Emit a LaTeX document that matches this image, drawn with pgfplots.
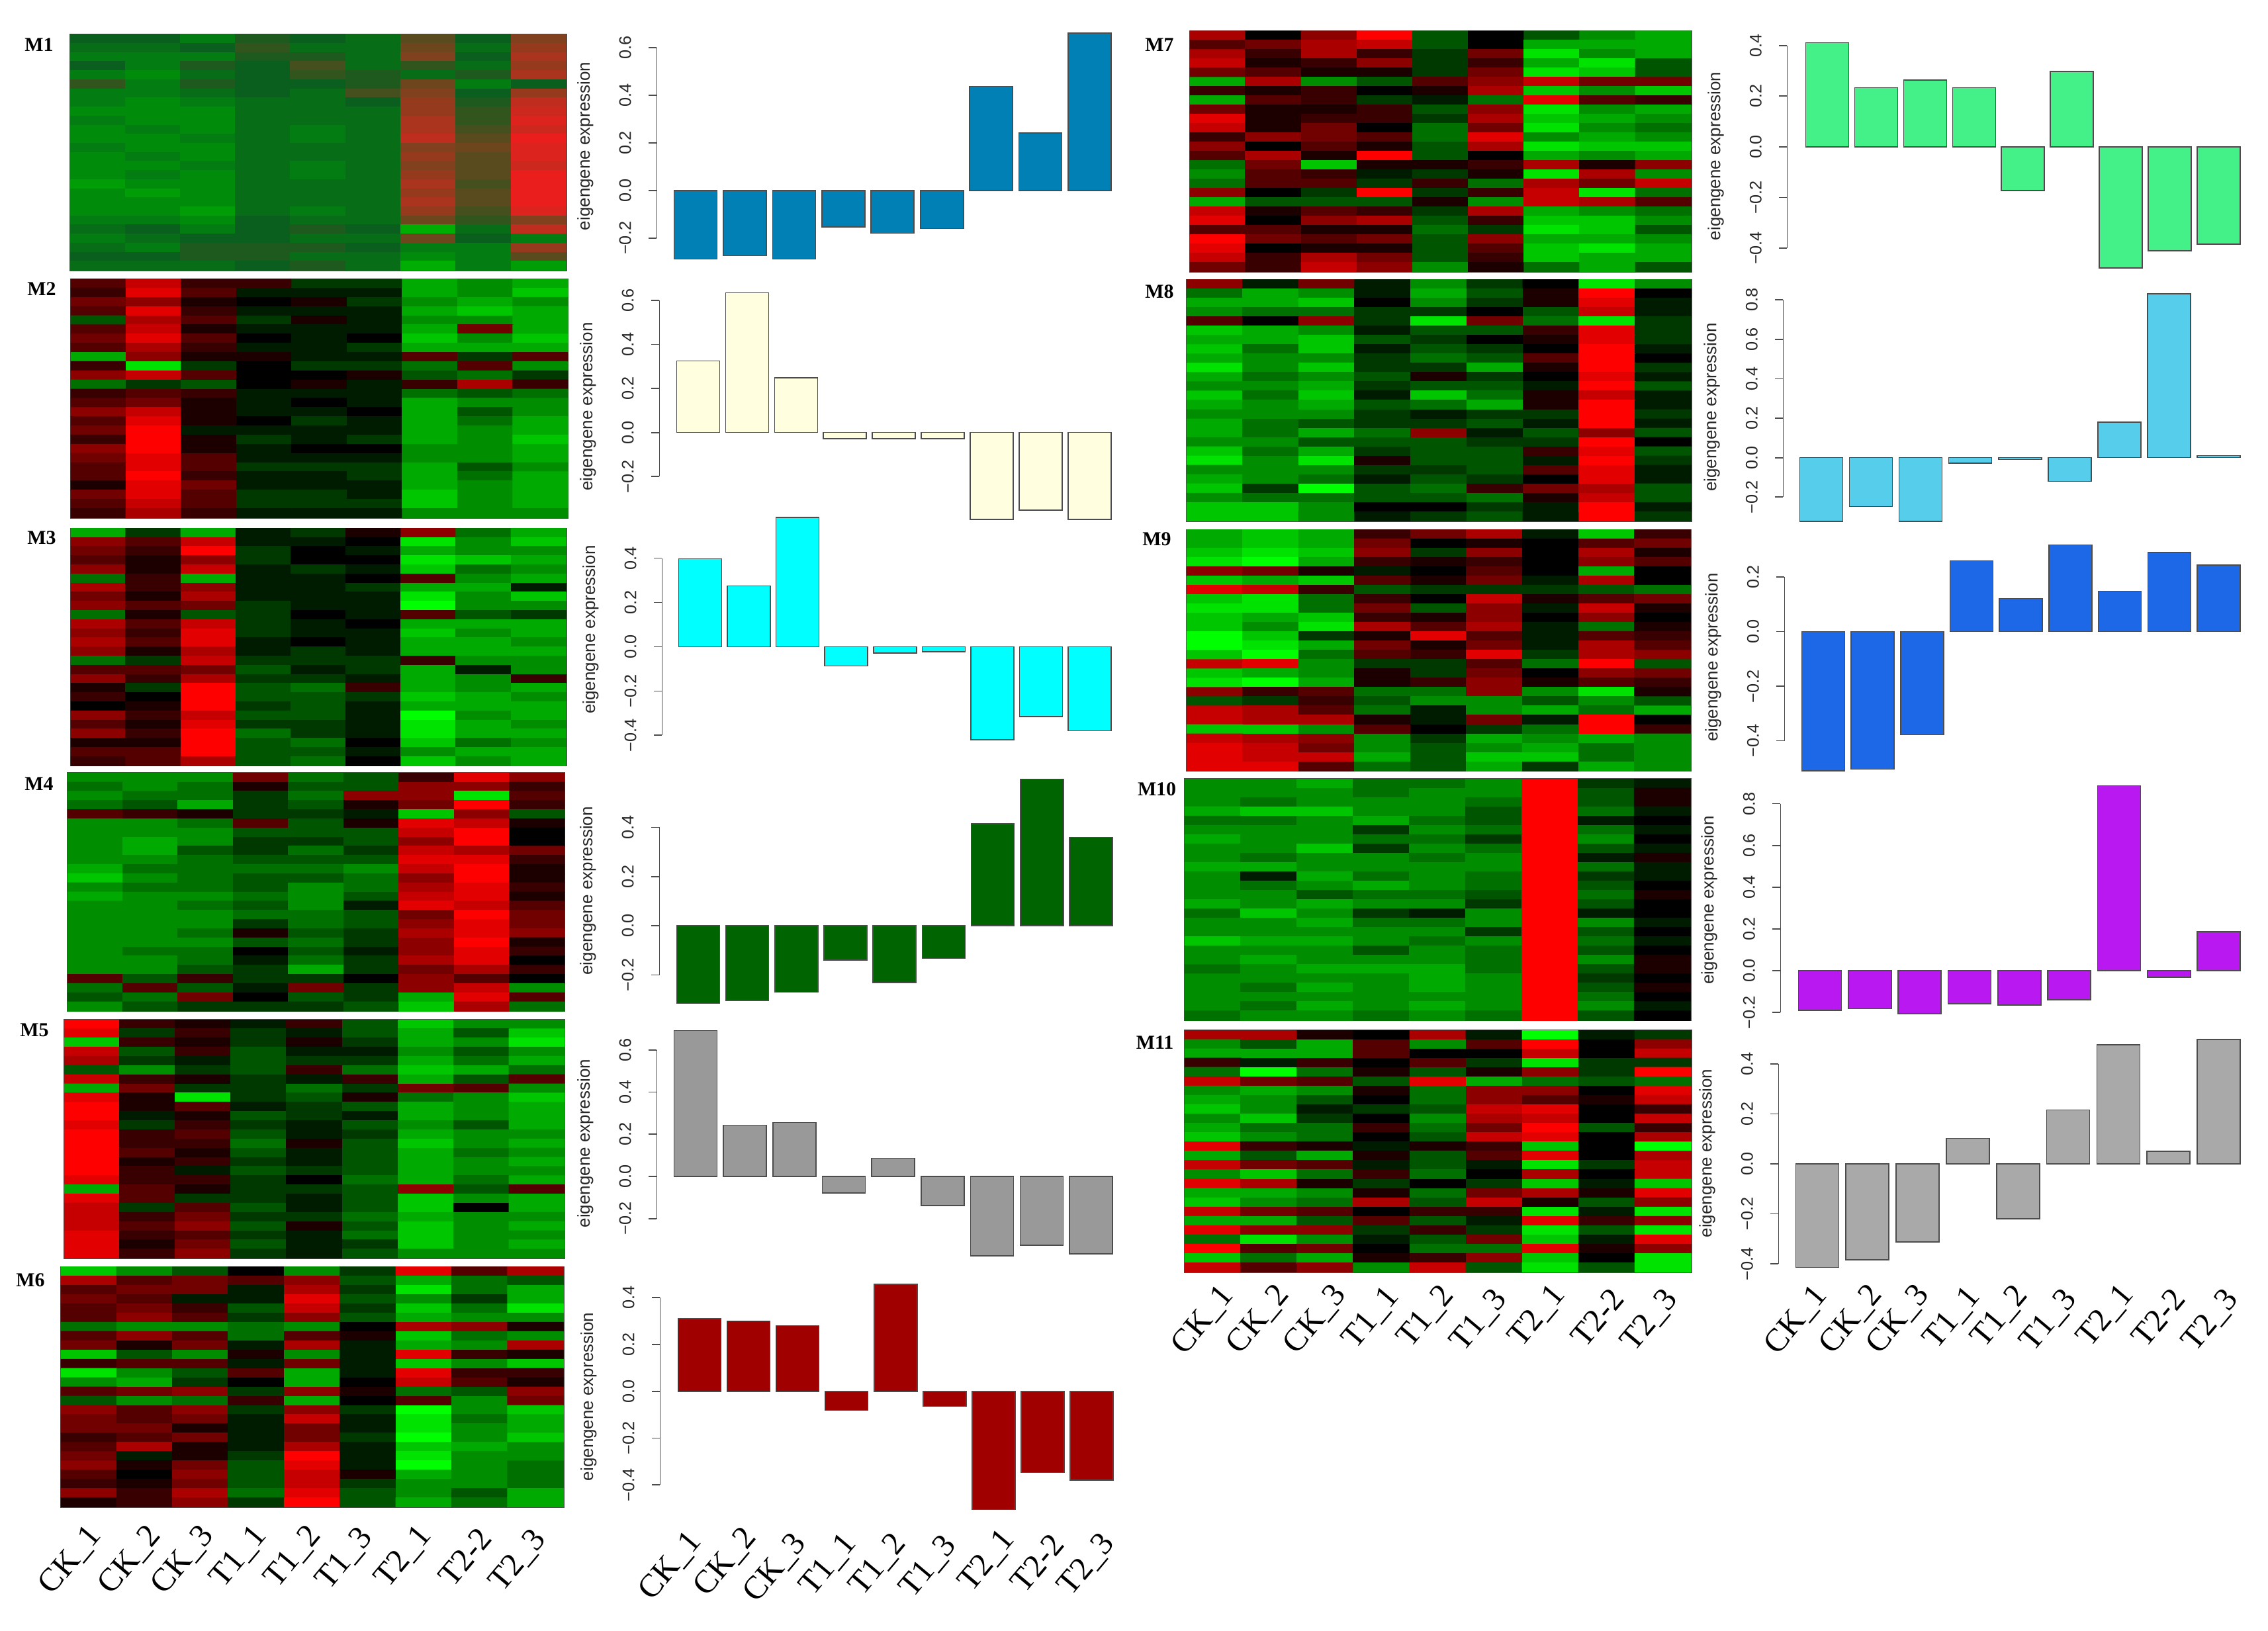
\documentclass[border=0pt]{standalone}
\usepackage{pgfplots}
\usepackage{pgfplotstable}
\usepackage{fontspec}
\pgfplotsset{compat=1.18}
\setmainfont{Liberation Sans}
\newfontfamily\timesf{Liberation Serif}

\definecolor{cM1}{RGB}{0,128,181}
\definecolor{cM2}{RGB}{255,255,224}
\definecolor{cM3}{RGB}{0,255,255}
\definecolor{cM4}{RGB}{0,100,0}
\definecolor{cM5}{RGB}{153,153,153}
\definecolor{cM6}{RGB}{160,0,0}
\definecolor{cM7}{RGB}{67,241,136}
\definecolor{cM8}{RGB}{85,205,235}
\definecolor{cM9}{RGB}{28,104,230}
\definecolor{cM10}{RGB}{186,24,240}
\definecolor{cM11}{RGB}{169,169,169}

\pgfplotsset{
  colormap={gbr}{rgb255=(0,255,0) rgb255=(0,0,0) rgb255=(255,0,0)},
  colormap={muted}{rgb255=(0,190,0) rgb255=(0,140,10) rgb255=(10,95,30) rgb255=(70,80,30) rgb255=(130,65,30) rgb255=(190,45,30) rgb255=(235,30,30)},
}

% heatmap values: -9 green, 0 black, 9 red
\pgfplotstableread[header=false]{
-3 -3 -5 -2 -3 -4 1 -3 3
-4 -4 -3 -1 -4 -4 2 -4 4
-5 -5 -5 -2 -2 -4 3 -3 5
-3 -5 -2 -3 0 -4 -1 -4 4
-5 -6 -4 -3 -1 -2 -4 -2 5
-1 -5 -2 -3 -3 -2 2 -5 -3
-5 -5 -4 -3 -4 0 3 -3 4
-5 -6 -5 -4 -4 -3 4 -2 6
-6 -6 -6 -4 -4 -4 4 -1 7
-5 -6 -6 -4 -4 -4 5 -1 8
-6 -5 -6 -4 -5 -4 5 0 7
-6 -6 -5 -4 -5 -4 6 1 9
-5 -6 -6 -4 -4 -4 3 2 8
-6 -5 -6 -4 -4 -4 4 1 8
-6 -6 -5 -4 -5 -4 3 1 7
-6 -5 -6 -4 -5 -4 4 1 9
-7 -6 -6 -4 -4 -4 5 0 9
-6 -7 -6 -4 -4 -4 4 1 9
-6 -6 -6 -4 -4 -4 5 1 9
-6 -6 -7 -4 -5 -4 4 0 8
-5 -5 -6 -3 -4 -4 2 -1 3
-4 -3 -5 -3 -2 -3 -8 -4 6
-5 -4 -3 -3 -4 -4 2 -3 -5
-4 -5 -2 -2 -2 -3 -5 -5 4
-3 -3 -2 -2 -4 -4 -6 -5 1
-4 -4 -4 -3 -2 -4 -8 -5 -7
}\tabMa
\pgfplotstableread[header=false]{
3 7 2 2 -2 -2 -6 -5 -6
2 8 3 -1 -1 -1 -6 -5 -7
4 5 1 0 1 -2 -5 -6 -5
3 8 2 -1 -1 -1 -6 -7 -6
-3 6 3 -2 1 -1 -5 -5 -6
3 7 1 -1 -1 -1 -6 4 -6
4 8 3 0 -1 0 -7 -5 -7
3 6 2 -1 -1 -2 -6 -6 -6
-6 5 1 1 -1 -1 3 -2 3
2 -8 -2 0 -2 -2 -4 3 -5
5 7 3 0 0 1 -3 -4 -2
-4 -2 -3 0 1 -1 2 6 2
2 3 2 -1 -1 -1 -4 -3 -4
3 4 1 -1 0 -1 -6 -5 -5
5 7 1 -1 -1 0 -6 -3 -5
3 8 1 0 -2 -1 -6 -4 -6
4 9 -1 -1 -1 -1 -6 -5 -6
2 9 1 -2 -1 -2 -6 -5 -7
5 9 1 -1 0 0 -5 -5 -6
4 8 3 -1 -1 -1 -5 -5 -6
3 8 3 -2 -2 -2 -6 -3 -5
3 9 2 -1 -1 -2 -6 -4 -6
1 8 4 -1 -1 -1 -6 -5 -6
4 8 3 -2 -2 -1 -7 -5 -6
3 7 3 -2 -2 -2 -7 -5 -6
2 6 2 -1 -1 -1 -5 -5 -5
}\tabMb
\pgfplotstableread[header=false]{
-6 -2 -6 -1 -2 1 5 -4 -6
5 3 7 -1 -1 0 -8 -5 -7
4 2 9 -2 0 -1 -6 -5 -5
3 1 5 -2 0 0 -8 -7 -6
5 1 7 -1 -2 -1 -7 -4 -5
-4 2 -6 -1 -1 0 3 -5 -6
6 2 5 -1 -1 -2 -6 -6 -1
4 1 6 -1 -1 -1 -8 -5 -7
5 3 4 -2 -1 -1 -9 -5 -5
-4 1 -3 -2 0 -1 3 -3 -2
6 3 7 -2 -1 0 -6 -6 -6
5 2 8 -2 -1 -1 -7 -5 -6
6 3 8 -1 0 -1 -6 -6 -5
5 1 6 -1 -2 -1 -6 -6 -6
-4 -2 7 -2 -2 -2 2 -5 -5
3 3 4 -3 -1 -2 -6 -1 -5
5 2 6 -2 -2 -1 -6 -5 2
1 -2 9 -3 -4 2 -6 -5 -6
2 0 9 -3 -3 -2 -7 -6 -5
0 1 9 -2 -3 -1 -6 -6 -6
5 2 7 -3 -3 -1 -9 -5 -6
3 1 8 -2 -2 -1 -8 -6 -5
5 2 9 -4 -2 -1 -8 -6 -6
1 1 9 -3 -4 0 -7 -4 -5
3 3 9 -3 -3 -1 -5 -6 -6
2 3 6 -3 -4 0 -7 -5 -6
}\tabMc
\pgfplotstableread[header=false]{
-5 -5 -5 4 -4 -3 2 8 5
-4 -5 -4 1 -3 -3 5 5 2
-5 -4 -4 -2 -4 5 5 -8 3
-4 -3 -6 -2 -3 1 4 9 2
3 2 1 -2 -2 -1 -7 5 -3
-5 -5 -4 3 -3 1 8 7 1
-5 -5 -5 -3 -3 -3 7 9 0
-5 -6 -5 -2 -2 -3 5 9 0
-5 -6 -3 -2 -4 -2 7 6 4
-5 -5 -4 -3 -3 -3 8 8 2
-6 -4 -4 -4 -4 -5 7 9 1
-7 -5 -4 -3 -3 -4 5 9 1
-5 -4 -4 -3 -5 -4 6 8 2
-6 -5 -5 -4 -5 -3 7 8 1
-5 -5 -4 -3 -5 -1 8 7 3
-5 -5 -5 -4 -4 -3 4 9 4
-5 -5 -5 -2 -4 -3 5 8 4
-5 -5 -4 1 -3 -2 6 8 5
-5 -5 -5 -3 -4 -2 5 9 1
-5 -4 -4 0 -3 -1 5 8 2
-5 -5 -4 -1 -4 -2 6 8 0
-5 -5 -3 -2 -6 -2 4 6 2
3 -3 2 -2 -2 0 5 3 0
-4 3 -3 -1 4 -2 5 7 -5
-3 -4 4 0 -3 -2 -6 8 3
-5 -3 -2 -2 -2 -3 -7 6 -4
}\tabMd
\pgfplotstableread[header=false]{
9 2 1 -1 2 -3 -7 -5 -5
8 -2 2 -2 -1 -3 -6 -3 -7
-7 2 1 -2 1 -2 -6 -5 -8
7 -3 2 -3 -1 -1 -5 -3 -5
6 -2 -1 -3 -2 -2 -6 -4 -6
-3 -5 -2 -3 2 -4 -7 -6 -4
7 2 1 -2 -1 2 -6 -3 3
-6 4 -2 -2 -4 -2 4 3 -5
8 1 -8 -2 -3 1 -4 -5 -7
9 1 3 -1 -2 -3 -6 -5 -6
9 -1 1 -3 -2 -1 -6 -5 -6
8 -2 2 -2 -1 -3 -5 -3 -6
9 2 3 -3 -1 -2 -6 -5 -5
9 2 2 -4 1 -3 -7 -5 -6
9 3 1 -3 -1 -3 -6 -4 -5
9 1 2 -2 -1 -3 -6 -5 -6
9 2 -1 -3 -2 -3 -6 -5 -5
8 2 2 -2 0 -4 -6 -4 -6
-6 3 1 -2 -2 -3 5 -3 3
8 3 -2 -2 -1 -3 -7 -5 -6
7 -2 3 -3 -1 -3 -7 0 -6
7 2 4 -2 -2 -4 -6 -5 -5
7 3 5 -3 1 -3 -7 -5 -6
8 2 3 -2 -1 -4 -7 -5 -5
8 1 4 -3 -1 -2 -7 -5 -6
8 2 5 -2 -1 -3 -5 -5 -5
}\tabMe
\pgfplotstableread[header=false]{
-7 -5 -3 0 -5 -2 8 3 6
6 3 4 3 5 -3 -6 -4 -3
3 4 4 -1 6 -2 -8 -4 -6
4 3 -1 -1 8 -3 -5 -2 -6
3 4 2 -3 7 -2 -7 -4 -8
3 5 3 -2 5 -3 -6 -5 -5
-4 -5 -5 -4 -5 0 6 5 1
3 5 3 -4 3 1 -7 -4 -5
4 1 4 -1 6 -1 -6 -5 6
-7 -3 -5 1 -5 -1 8 2 1
2 3 3 -1 4 -1 -7 -5 -7
-8 -5 -3 3 -6 -1 8 2 2
-5 -6 -2 0 -6 0 7 3 1
3 4 5 -2 5 1 -4 -3 5
-3 -5 -4 2 -6 0 3 -5 4
5 3 5 -2 5 -2 -9 -5 -7
4 3 4 -1 7 -1 -8 -4 -6
4 4 1 -1 4 -1 -8 -5 -6
2 3 4 -1 4 -2 -9 -5 -7
3 6 1 -1 6 -1 -7 -6 -5
4 -1 1 -2 9 -1 -8 -5 -5
5 1 4 -3 8 -1 -9 -5 -4
3 0 5 -3 7 1 -6 -5 -4
2 1 4 -3 7 -2 -5 -5 -4
5 2 6 -4 8 -3 -5 -3 -6
1 2 5 -2 9 -3 -6 -4 -6
}\tabMf
\pgfplotstableread[header=false]{
6 0 5 9 -3 0 -3 -5 -6
3 4 6 7 -3 0 -6 -6 -6
6 2 6 2 -2 4 -8 -5 -6
7 1 2 5 -2 2 -6 -8 -3
4 3 1 1 -2 4 -8 -7 -3
-6 6 -5 -3 3 5 7 4 4
2 1 2 0 1 6 -7 -5 -7
-6 3 2 -2 -1 -4 8 3 2
4 1 1 2 -3 5 -8 -5 -6
8 1 2 2 -2 6 -7 -6 -5
7 1 4 0 -4 4 -8 -5 -4
2 5 4 3 -4 8 -5 -6 -5
5 0 3 1 -3 6 -8 -7 -7
3 6 1 9 -3 0 -6 -5 -6
-4 4 -7 1 1 2 6 1 5
-5 3 2 -1 -2 1 -8 6 -5
-4 3 3 -2 2 -4 6 4 7
5 0 -2 9 -2 2 7 -8 -4
-6 -3 -3 -3 1 -5 7 6 3
7 1 3 2 -2 6 -6 -5 -4
8 0 5 6 -3 2 -7 -7 -5
3 3 1 1 -4 -2 -8 -7 -3
9 4 3 4 -3 5 -6 -6 -5
8 0 1 1 -3 3 -7 -8 -6
7 2 6 4 -3 2 -7 -6 -6
4 2 7 5 -5 1 -4 -6 -3
}\tabMg
\pgfplotstableread[header=false]{
5 -1 4 -1 -5 -2 0 -8 -5
-4 -6 -5 -1 -6 -3 1 9 0
-6 -6 -7 0 -5 -2 1 8 -1
-5 -4 -4 -2 -2 0 -3 7 -1
3 0 5 -2 -8 4 -4 -8 -2
-7 -6 -5 -1 -3 -3 2 8 -2
-6 -6 -7 -3 -2 0 1 8 -2
-7 -4 -7 -1 -3 -2 0 9 -1
-6 -5 -5 -2 -4 -3 3 9 0
-8 -5 -7 -2 -2 -6 1 9 -2
-6 -4 -5 -3 1 -2 0 8 -1
-5 -5 -6 -2 -3 -3 -1 9 -3
-7 -4 -7 -1 -7 -4 1 7 -1
-6 -5 -6 -3 -4 -6 1 9 -1
-5 -5 -5 -2 -1 -2 -2 9 -2
-6 -4 -3 -2 -2 -3 -1 9 -1
-6 -4 -6 -4 5 -1 -3 5 -3
-5 -5 -3 -3 -3 -2 -2 9 0
-7 -4 -6 -2 -3 -3 2 8 -3
-8 -5 -8 1 -3 -3 -1 9 -2
-5 -5 -5 -2 -2 -3 3 8 -1
-6 -5 -4 -1 -3 -2 0 8 -1
-7 -2 -9 -3 -4 2 4 6 -3
-5 -4 -4 -3 -3 -4 1 7 -3
-7 -7 -5 0 0 -2 -1 9 -1
-7 -7 -5 -1 -2 -3 -1 9 -2
}\tabMh
\pgfplotstableread[header=false]{
-6 -7 -6 2 4 6 -1 -7 2
-6 -7 -6 4 0 1 0 3 4
-7 -8 -7 5 -2 5 0 6 1
-8 -9 -6 2 1 2 0 5 3
5 4 1 -1 0 3 0 -6 0
-7 -6 -7 3 1 4 -1 6 0
8 7 2 -3 -2 -2 -2 -3 -4
-7 -8 -4 2 0 7 1 3 4
-8 -8 -4 4 -3 5 -1 7 1
-7 -6 -7 2 1 5 0 5 0
-7 -5 -8 6 3 6 -1 -4 1
-9 -7 -2 1 8 3 -1 3 2
-9 -8 -6 4 1 4 -1 6 3
-7 -9 -4 3 2 8 -2 6 5
7 8 -5 -2 -2 3 -4 9 -3
-7 -6 -5 1 -2 4 0 5 4
-8 -9 -6 1 2 5 1 3 2
5 2 3 -4 -4 5 -5 -8 1
-3 -2 2 -3 -5 -5 -3 -5 -3
7 6 3 -4 -1 -5 -6 -4 -6
7 6 6 1 -1 4 -1 9 0
-7 -7 -5 3 0 -2 -4 9 2
7 6 5 -5 -2 -6 -5 -6 -5
8 7 4 -5 -3 -5 -6 -4 -5
8 7 7 -6 -3 -7 -7 -4 -5
8 8 3 -4 -3 -6 -2 -6 -5
}\tabMi
\pgfplotstableread[header=false]{
-5 -5 -6 -4 -4 -5 9 -2 -1
-5 -5 -5 -4 -5 -5 9 -3 1
-5 -4 -5 -5 -5 -4 9 -3 1
-6 -7 -7 -5 -5 -3 9 -4 -1
-4 -4 -5 -6 -4 -3 9 -1 0
-5 -5 -5 -2 -5 -4 9 -4 -1
-6 -5 -5 -4 -4 -2 9 -5 0
-5 -5 -7 -2 -5 -4 9 -3 -1
-5 -4 -5 -5 -4 -5 9 -1 1
-6 -6 -5 -5 -5 -5 9 -4 -1
-5 -1 -6 -4 -5 -4 9 -2 -1
-5 -4 -5 -6 -5 -4 9 -3 0
-5 -5 -3 -4 -4 -3 9 -4 1
-6 -5 -6 -5 -5 -2 9 -3 0
-4 -7 -5 -2 -1 -5 9 -1 0
-5 -5 -6 -4 -4 -5 9 -5 -1
-5 -5 -5 -5 -5 -2 9 -3 0
-7 -6 -6 -5 -4 -5 9 -4 -1
-5 -5 -5 -3 -5 -4 9 -3 0
-5 -6 -5 -5 -5 -4 9 -5 1
-4 -5 -6 -6 -6 -4 9 -3 1
-5 -5 -5 -5 -6 -5 9 -2 0
-5 -4 -6 -5 -6 -5 9 -3 1
-5 -5 -5 -5 -5 -5 9 -4 0
-5 -4 -6 -5 -6 -5 9 -5 -1
-4 -5 -5 -4 -5 -4 9 -3 0
}\tabMj
\pgfplotstableread[header=false]{
6 6 1 0 6 -1 -9 -1 -2
-5 -3 -6 3 -5 3 9 0 5
-6 -6 -6 3 0 0 7 0 7
2 -1 2 0 3 -2 -8 -2 -2
-4 -9 -4 1 -3 1 5 -2 9
7 4 3 -3 8 -6 -4 -3 -4
-5 -6 -5 1 -4 5 5 0 8
-6 -5 -3 0 -4 5 3 1 7
-7 -5 -1 -2 -3 7 8 0 2
-5 -7 -2 0 -5 6 7 0 7
-6 -4 -4 2 -4 4 9 -3 2
-7 -5 -4 0 -3 7 8 0 6
8 2 1 -1 1 2 -7 0 -9
-6 -3 -6 1 -3 3 8 0 6
7 4 3 -1 -3 -1 -8 -2 7
-5 -7 -4 2 -4 0 6 0 7
8 6 1 -2 0 -2 -7 -1 -7
-6 -6 -5 1 -4 4 6 1 8
-7 -5 -4 6 -3 7 1 -3 5
7 4 3 0 2 2 -8 -1 -8
-6 -6 -3 3 -3 -1 8 2 5
8 5 5 -2 2 -2 -8 -3 -8
-4 -8 -5 -1 -3 4 -7 -1 8
9 3 4 0 -4 -4 8 1 5
-7 -4 -6 1 2 5 -7 0 -8
7 3 5 -5 7 -3 -8 -3 -8
}\tabMk

\newcommand{\heatmap}[6]{%
  \pgfplotstablegetrowsof{#5}%
  \pgfmathtruncatemacro{\nrows}{\pgfplotsretval}%
  \pgfmathtruncatemacro{\lastrow}{\nrows-1}%
  \gdef\cellbuf{}%
  \foreach \r in {0,...,\lastrow}{%
    \foreach \c in {0,...,8}{%
      \pgfplotstablegetelem{\r}{[index]\c}\of{#5}%
      \xdef\cellbuf{\cellbuf (\c,\r) [\pgfplotsretval] }%
    }%
  }%
  \begin{axis}[
    at={(#1*0.01cm,-#4*0.01cm)}, anchor=south west, scale only axis,
    width=#2*0.01cm-#1*0.01cm, height=#4*0.01cm-#3*0.01cm,
    xmin=-0.5, xmax=8.5, ymin=-0.5, ymax=\nrows-0.5, y dir=reverse,
    ticks=none, axis line style={line width=0.2mm, black!70},
    colormap name=#6, point meta min=-9, point meta max=9,
  ]
  \edef\tmpplot{\noexpand\addplot[matrix plot*, mesh/cols=9, point meta=explicit] coordinates {\cellbuf};}%
  \tmpplot
  \end{axis}
}

% #1 axis line x, #2 left of first bar, #3 right of last bar, #4 zero y,
% #5 px per unit, #6 ymin, #7 ymax, #8 colour, #9 values
\newcommand{\barpanel}[9]{%
  \pgfmathsetmacro{\bw}{65}%
  \pgfmathsetmacro{\pitch}{(#3-#2-\bw)/8}%
  \pgfmathsetmacro{\xa}{1-(#2+\bw/2-#1)/\pitch}%
  \pgfmathsetmacro{\xb}{9+(\bw/2)/\pitch}%
  \pgfmathsetmacro{\boty}{#4-#6*#5}%
  \pgfmathsetmacro{\hgt}{(#7-#6)*#5}%
  \begin{axis}[
    at={(#1*0.01cm,-\boty*0.01cm)}, anchor=south west, scale only axis,
    width=#3*0.01cm-#1*0.01cm, height=\hgt*0.01cm,
    xmin=\xa, xmax=\xb, ymin=#6, ymax=#7, clip=false,
    axis x line=none, axis y line=left, y axis line style={draw=none,-},
    ytick/.expand once=\tickvals, yticklabels/.expand once=\ticklabs,
    tick align=outside, major tick length=1.2mm,
    ytick style={black!70, line width=0.18mm},
    yticklabel style={rotate=90, anchor=south, yshift=2.6mm, font=\fontsize{7.2}{7.2}\selectfont, inner sep=0pt, text=black!85},
    ybar, bar width=0.65cm,
  ]
  \addplot[fill=#8, draw=black!70, line width=0.16mm] coordinates {#9};
  \draw[black!70, line width=0.18mm] (axis cs:\xa,\tlo) -- (axis cs:\xa,\thi);
  \end{axis}
  \node[rotate=90, inner sep=0pt, text=black!85, font=\fontsize{7.4}{7.4}\selectfont] at (#1*0.01-1.08,-\ly*0.01) {eigengene expression};
}

\newcommand{\panellabel}[3]{\node[font=\timesf\bfseries\fontsize{8.5}{8.5}\selectfont, inner sep=0pt] at (#1*0.01,-#2*0.01) {#3};}
\newcommand{\samplelabel}[3]{\node[rotate=50, anchor=east, inner sep=0pt, font=\timesf\fontsize{14}{14}\selectfont] at (#1*0.01-0.03,-#2*0.01-0.1) {#3};}

\begin{document}
\begin{tikzpicture}
\useasboundingbox (0,0) rectangle (34.27,-24.64);

\heatmap{106}{856}{52}{409}{\tabMa}{muted}
\heatmap{107}{859}{422}{783}{\tabMb}{gbr}
\heatmap{107}{856}{799}{1158}{\tabMc}{gbr}
\heatmap{102}{854}{1169}{1529}{\tabMd}{gbr}
\heatmap{97}{854}{1542}{1903}{\tabMe}{gbr}
\heatmap{92}{852}{1916}{2279}{\tabMf}{gbr}
\heatmap{1799}{2557}{47}{411}{\tabMg}{gbr}
\heatmap{1794}{2557}{423}{788}{\tabMh}{gbr}
\heatmap{1794}{2556}{801}{1166}{\tabMi}{gbr}
\heatmap{1791}{2556}{1178}{1543}{\tabMj}{gbr}
\heatmap{1791}{2557}{1558}{1924}{\tabMk}{gbr}

\def\tickvals{-0.2,0,0.2,0.4,0.6}\def\ticklabs{−0.2,0.0,0.2,0.4,0.6}\def\tlo{-0.2}\def\thi{0.6}\def\ly{221}
\barpanel{993}{1019}{1680}{288}{360}{-0.30}{0.68}{cM1}{(1,-0.288)(2,-0.274)(3,-0.288)(4,-0.153)(5,-0.18)(6,-0.16)(7,0.437)(8,0.241)(9,0.662)}
\def\ly{615}
\barpanel{997}{1023}{1680}{654}{333}{-0.41}{0.65}{cM2}{(1,0.325)(2,0.634)(3,0.248)(4,-0.028)(5,-0.028)(6,-0.028)(7,-0.395)(8,-0.352)(9,-0.395)}
\def\tickvals{-0.4,-0.2,0,0.2,0.4}\def\ticklabs{−0.4,−0.2,0.0,0.2,0.4}\def\tlo{-0.4}\def\thi{0.4}\def\ly{952}
\barpanel{1001}{1026}{1680}{978}{335}{-0.44}{0.6}{cM3}{(1,0.397)(2,0.275)(3,0.583)(4,-0.087)(5,-0.029)(6,-0.023)(7,-0.42)(8,-0.315)(9,-0.379)}
\def\tickvals{-0.2,0,0.2,0.4}\def\ticklabs{−0.2,0.0,0.2,0.4}\def\tlo{-0.2}\def\thi{0.4}\def\ly{1347}
\barpanel{997}{1023}{1682}{1400}{372}{-0.33}{0.61}{cM4}{(1,-0.315)(2,-0.304)(3,-0.27)(4,-0.14)(5,-0.23)(6,-0.133)(7,0.414)(8,0.596)(9,0.36)}
\def\tickvals{-0.2,0,0.2,0.4,0.6}\def\ticklabs{−0.2,0.0,0.2,0.4,0.6}\def\tlo{-0.2}\def\thi{0.6}\def\ly{1729}
\barpanel{993}{1019}{1682}{1779}{319}{-0.39}{0.71}{cM5}{(1,0.692)(2,0.243)(3,0.256)(4,-0.078)(5,0.086)(6,-0.138)(7,-0.377)(8,-0.326)(9,-0.367)}
\def\tickvals{-0.4,-0.2,0,0.2,0.4}\def\ticklabs{−0.4,−0.2,0.0,0.2,0.4}\def\tlo{-0.4}\def\thi{0.4}\def\ly{2112}
\barpanel{998}{1025}{1683}{2104}{354}{-0.52}{0.47}{cM6}{(1,0.31)(2,0.301)(3,0.281)(4,-0.081)(5,0.458)(6,-0.064)(7,-0.505)(8,-0.347)(9,-0.38)}
\def\ly{236}
\barpanel{2702}{2730}{3387}{222}{383}{-0.49}{0.43}{cM7}{(1,0.411)(2,0.234)(3,0.264)(4,0.234)(5,-0.172)(6,0.298)(7,-0.478)(8,-0.411)(9,-0.385)}
\def\tickvals{-0.2,0,0.2,0.4,0.6,0.8}\def\ticklabs{−0.2,0.0,0.2,0.4,0.6,0.8}\def\tlo{-0.2}\def\thi{0.8}\def\ly{616}
\barpanel{2696}{2721}{3387}{692}{298}{-0.33}{0.84}{cM8}{(1,-0.323)(2,-0.248)(3,-0.323)(4,-0.029)(5,-0.01)(6,-0.121)(7,0.181)(8,0.831)(9,0.01)}
\def\tickvals{-0.4,-0.2,0,0.2}\def\ticklabs{−0.4,−0.2,0.0,0.2}\def\tlo{-0.4}\def\thi{0.2}\def\ly{994}
\barpanel{2698}{2724}{3387}{955}{413}{-0.52}{0.33}{cM9}{(1,-0.51)(2,-0.504)(3,-0.378)(4,0.259)(5,0.121)(6,0.317)(7,0.148)(8,0.289)(9,0.244)}
\def\tickvals{-0.2,0,0.2,0.4,0.6,0.8}\def\ticklabs{−0.2,0.0,0.2,0.4,0.6,0.8}\def\tlo{-0.2}\def\thi{0.8}\def\ly{1361}
\barpanel{2692}{2719}{3387}{1468}{316}{-0.22}{0.9}{cM10}{(1,-0.19)(2,-0.181)(3,-0.206)(4,-0.158)(5,-0.165)(6,-0.139)(7,0.885)(8,-0.032)(9,0.187)}
\def\tickvals{-0.4,-0.2,0,0.2,0.4}\def\ticklabs{−0.4,−0.2,0.0,0.2,0.4}\def\tlo{-0.4}\def\thi{0.4}\def\ly{1744}
\barpanel{2689}{2715}{3387}{1760}{378}{-0.43}{0.51}{cM11}{(1,-0.414)(2,-0.383)(3,-0.312)(4,0.102)(5,-0.219)(6,0.216)(7,0.476)(8,0.05)(9,0.498)}

\panellabel{59}{68}{M1}
\panellabel{63}{437}{M2}
\panellabel{63}{813}{M3}
\panellabel{59}{1185}{M4}
\panellabel{52}{1558}{M5}
\panellabel{46}{1936}{M6}
\panellabel{1753}{68}{M7}
\panellabel{1753}{441}{M8}
\panellabel{1749}{815}{M9}
\panellabel{1749}{1193}{M10}
\panellabel{1746}{1576}{M11}

% sample names under the last row of each column
\samplelabel{148}{2304}{CK\_1}
\samplelabel{238}{2304}{CK\_2}
\samplelabel{318}{2304}{CK\_3}
\samplelabel{398}{2304}{T1\_1}
\samplelabel{480}{2304}{T1\_2}
\samplelabel{558}{2307}{T1\_3}
\samplelabel{647}{2304}{T2\_1}
\samplelabel{737}{2307}{T2-2}
\samplelabel{820}{2310}{T2\_3}
\samplelabel{1055}{2313}{CK\_1}
\samplelabel{1138}{2307}{CK\_2}
\samplelabel{1213}{2316}{CK\_3}
\samplelabel{1289}{2316}{T1\_1}
\samplelabel{1364}{2316}{T1\_2}
\samplelabel{1440}{2319}{T1\_3}
\samplelabel{1529}{2310}{T2\_1}
\samplelabel{1602}{2316}{T2-2}
\samplelabel{1680}{2316}{T2\_3}
\samplelabel{1860}{1941}{CK\_1}
\samplelabel{1944}{1940}{CK\_2}
\samplelabel{2030}{1940}{CK\_3}
\samplelabel{2110}{1943}{T1\_1}
\samplelabel{2193}{1941}{T1\_2}
\samplelabel{2273}{1947}{T1\_3}
\samplelabel{2361}{1940}{T2\_1}
\samplelabel{2449}{1945}{T2-2}
\samplelabel{2531}{1947}{T2\_3}
\samplelabel{2757}{1941}{CK\_1}
\samplelabel{2840}{1940}{CK\_2}
\samplelabel{2911}{1940}{CK\_3}
\samplelabel{2988}{1943}{T1\_1}
\samplelabel{3060}{1941}{T1\_2}
\samplelabel{3134}{1947}{T1\_3}
\samplelabel{3220}{1940}{T2\_1}
\samplelabel{3297}{1945}{T2-2}
\samplelabel{3379}{1947}{T2\_3}
\end{tikzpicture}
\end{document}
